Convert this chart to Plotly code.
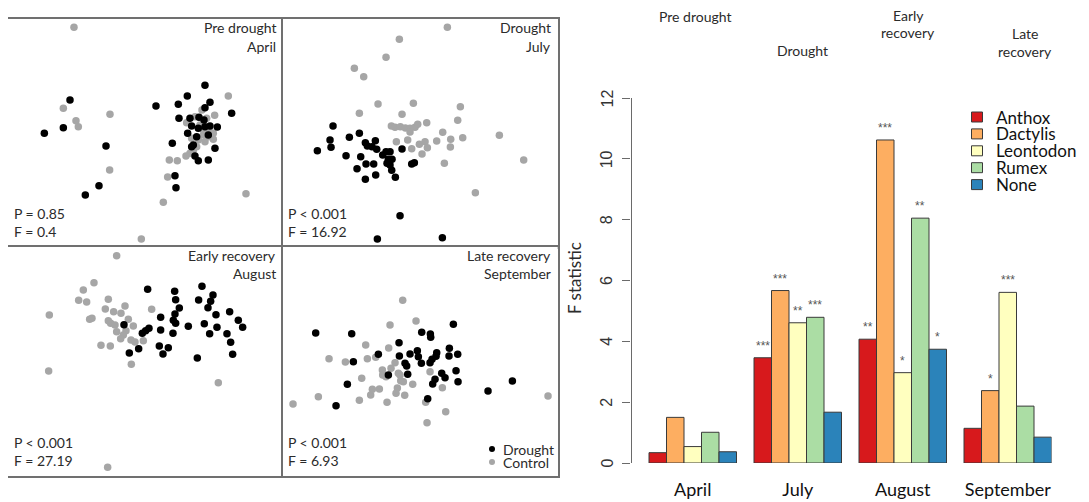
import plotly.graph_objects as go

W, H = 1089, 502
OFF = 8  # page body margin of the browser

# ---------------- ordination data (NMDS1, NMDS2 in arbitrary units) -------------
apr_control = [(222,82),(190,325),(228,362),(235,380),(330,343),(329,510),(490,607),(424,717),
               (508,480),(532,482),(503,531),(558,468),(685,288),(738,581),(644,346),(640,418),
               (606,330),(585,350),(620,355),(560,368),(600,375),(630,395),(610,405),(625,410),
               (595,420),(640,400),(580,450),(570,460),(610,390),(615,425),(590,440),(575,415)]
apr_drought = [(210,300),(190,383),(133,400),(318,438),(297,557),(256,585),(468,318),(535,313),
               (562,288),(615,256),(630,307),(615,323),(695,340),(537,355),(570,355),(597,352),
               (612,360),(575,378),(630,378),(652,381),(595,385),(563,400),(590,410),(615,380),
               (625,405),(580,435),(575,440),(517,430),(645,445),(585,468),(595,482),(625,480),
               (525,527),(528,563)]
jul_control = [(502,82),(358,118),(318,172),(223,205),(251,230),(294,312),(400,310),(238,340),
               (366,343),(541,320),(533,361),(334,378),(345,382),(361,380),(376,384),(390,385),
               (405,382),(413,373),(440,368),(390,396),(488,397),(512,418),(548,413),(349,425),
               (383,420),(418,433),(435,425),(470,423),(395,446),(442,443),(511,441),(426,462),
               (493,490),(658,406),(731,480),(586,578)]
jul_drought = [(159,378),(238,400),(150,420),(208,412),(153,442),(112,452),(256,428),(262,438),
               (276,440),(286,422),(290,448),(198,467),(242,470),(318,455),(330,455),(308,465),
               (325,478),(336,478),(366,447),(258,492),(281,492),(321,490),(330,495),(395,492),
               (403,488),(231,506),(335,511),(287,525),(256,538),(346,532),(360,647),(292,717),
               (487,713)]
aug_control = [(350,47),(282,128),(250,150),(236,181),(260,186),(325,178),(148,225),(316,207),
               (341,215),(363,220),(375,198),(455,208),(269,238),(276,235),(325,242),(332,250),
               (345,255),(385,238),(400,258),(350,275),(378,272),(370,285),(362,296),(393,300),
               (405,306),(430,302),(303,316),(331,318),(394,373),(146,393),(655,428),(323,682)]
aug_drought = [(443,148),(524,154),(527,179),(606,139),(639,165),(632,184),(596,180),(538,204),
               (624,203),(525,222),(689,215),(648,224),(482,232),(520,241),(527,250),(565,259),
               (613,251),(715,241),(728,262),(372,254),(447,265),(437,272),(427,280),(482,270),
               (519,280),(629,281),(651,262),(681,281),(692,307),(698,343),(478,318),(505,323),
               (489,342),(416,326),(388,339),(592,354)]
sep_control = [(368,181),(408,243),(330,255),(257,315),(326,324),(147,356),(196,366),(262,356),
               (287,352),(245,415),(307,390),(333,385),(345,368),(308,405),(318,410),(355,400),
               (360,405),(370,425),(362,422),(398,433),(352,444),(348,460),(374,466),(298,447),
               (277,448),(272,465),(238,481),(321,487),(115,470),(39,492),(437,487),(450,395),
               (487,443),(497,515),(441,548),(804,468)]
sep_drought = [(107,279),(215,281),(520,253),(425,277),(451,282),(452,292),(357,308),(508,325),
               (412,332),(390,342),(358,348),(295,343),(470,338),(468,349),(456,358),(415,350),
               (533,343),(507,348),(375,370),(380,378),(424,370),(450,368),(220,365),(383,403),
               (325,405),(528,392),(485,400),(495,413),(465,418),(458,432),(534,425),(202,433),
               (443,476),(168,497),(624,453),(697,423)]

panel_titles = [("Pre drought", "April"), ("Drought", "July"),
                ("Early recovery", "August"), ("Late recovery", "September")]
panel_p = ["P = 0.85", "P < 0.001", "P < 0.001", "P < 0.001"]
panel_f = ["F = 0.4", "F = 16.92", "F = 27.19", "F = 6.93"]

# ---------------- bar chart data ----------------
months = ["April", "July", "August", "September"]
periods = [["Pre drought"], ["Drought"], ["Early", "recovery"], ["Late", "recovery"]]
species = ["Anthox", "Dactylis", "Leontodon", "Rumex", "None"]
colors = ["#D7191C", "#FDAE61", "#FFFFBF", "#ABDDA4", "#2B83BA"]
fstat = {
    "Anthox":    [0.34, 3.46, 4.07, 1.14],
    "Dactylis":  [1.50, 5.67, 10.62, 2.38],
    "Leontodon": [0.54, 4.61, 2.97, 5.61],
    "Rumex":     [1.01, 4.79, 8.05, 1.87],
    "None":      [0.37, 1.67, 3.74, 0.85],
}
stars = {
    "Anthox":    ["", "***", "**", ""],
    "Dactylis":  ["", "***", "***", "*"],
    "Leontodon": ["", "**", "*", "***"],
    "Rumex":     ["", "***", "**", ""],
    "None":      ["", "", "*", ""],
}
yticks = [0, 2, 4, 6, 8, 10, 12]

# ---------------- helpers (page pixel -> paper fraction) ----------------
def px(x):
    return (x - OFF) / W

def py(y):
    return 1 - (y - OFF) / H

FONT = "Lato"
TXT = "#2b2b2b"

fig = go.Figure()

panels = [
    dict(data=(apr_control, apr_drought), box=(8.0, 283.3, 19.0, 247.3), xr=[24, 850], yr=[742, 57]),
    dict(data=(jul_control, jul_drought), box=(282.7, 557.7, 19.0, 247.3), xr=[8, 833], yr=[742, 57]),
    dict(data=(aug_control, aug_drought), box=(8.0, 283.3, 246.7, 476.0), xr=[24, 850], yr=[708, 20]),
    dict(data=(sep_control, sep_drought), box=(282.7, 557.7, 246.7, 476.0), xr=[8, 833], yr=[708, 20]),
]

annotations = []
shapes = []
for i, p in enumerate(panels):
    n = i + 1
    xa = "x" if n == 1 else f"x{n}"
    ya = "y" if n == 1 else f"y{n}"
    ctrl, dr = p["data"]
    fig.add_trace(go.Scatter(x=[a for a, b in ctrl], y=[b for a, b in ctrl], mode="markers",
                             marker=dict(color="#A6A6A6", size=7.5), xaxis=xa, yaxis=ya,
                             showlegend=False, hoverinfo="skip"))
    fig.add_trace(go.Scatter(x=[a for a, b in dr], y=[b for a, b in dr], mode="markers",
                             marker=dict(color="#000000", size=7.5), xaxis=xa, yaxis=ya,
                             showlegend=False, hoverinfo="skip"))
    x0, x1, y0, y1 = p["box"]
    axstyle = dict(showgrid=False, zeroline=False, showticklabels=False, ticks="",
                   showline=True, mirror=True, linecolor="#707070", linewidth=1.5,
                   automargin=False)
    fig.update_layout(**{
        ("xaxis" if n == 1 else f"xaxis{n}"): dict(domain=[px(x0), px(x1)], range=p["xr"],
                                                    anchor=ya, **axstyle),
        ("yaxis" if n == 1 else f"yaxis{n}"): dict(domain=[py(y1), py(y0)], range=p["yr"],
                                                    anchor=xa, **axstyle),
    })
    t1, t2 = panel_titles[i]
    annotations.append(dict(x=px(x1 - 5), y=py(y0 + 9), text=t1, xref="paper", yref="paper",
                            xanchor="right", yanchor="middle", showarrow=False,
                            font=dict(family=FONT, size=14, color=TXT)))
    annotations.append(dict(x=px(x1 - 5), y=py(y0 + 27), text=t2, xref="paper", yref="paper",
                            xanchor="right", yanchor="middle", showarrow=False,
                            font=dict(family=FONT, size=14, color=TXT)))
    annotations.append(dict(x=px(x0 + 3.5), y=py(y1 - 34), text=panel_p[i], xref="paper", yref="paper",
                            xanchor="left", yanchor="middle", showarrow=False,
                            font=dict(family=FONT, size=14, color=TXT)))
    annotations.append(dict(x=px(x0 + 3.5), y=py(y1 - 16), text=panel_f[i], xref="paper", yref="paper",
                            xanchor="left", yanchor="middle", showarrow=False,
                            font=dict(family=FONT, size=14, color=TXT)))

# legend of the ordination panels
for lab, col, yy in [("Drought", "#000000", 449), ("Control", "#A6A6A6", 462)]:
    shapes.append(dict(type="circle", xref="paper", yref="paper",
                       x0=px(489), x1=px(495), y0=py(yy + 3), y1=py(yy - 3),
                       fillcolor=col, line=dict(width=0)))
    annotations.append(dict(x=px(501), y=py(yy), text=lab, xref="paper", yref="paper",
                            xanchor="left", yanchor="middle", showarrow=False,
                            font=dict(family=FONT, size=14, color=TXT)))

# ---------------- bar chart ----------------
for sp, col in zip(species, colors):
    fig.add_trace(go.Bar(x=months, y=fstat[sp], name=sp, marker=dict(color=col,
                         line=dict(color="#3a3a3a", width=1)),
                         xaxis="x5", yaxis="y5", showlegend=False, hoverinfo="skip"))

# significance stars above the bars
for i, sp in enumerate(species):
    for k, (v, s) in enumerate(zip(fstat[sp], stars[sp])):
        if s:
            annotations.append(dict(x=k + (i - 2) / 6, y=v, xref="x5", yref="y5", text=s,
                                    showarrow=False, xanchor="center", yanchor="bottom",
                                    yshift=3, font=dict(family="Liberation Sans", size=12,
                                                        color="#555555")))

bx0, bx1 = 631.5, 1051.5
by0, by1 = 463.0, 98.0
fig.update_layout(
    barmode="group", bargap=1/6, bargroupgap=0,
    xaxis5=dict(domain=[px(bx0), px(bx1)], anchor="y5", type="category",
                range=[-3.5/6, 20.5/6], showline=False, showgrid=False, zeroline=False,
                ticks="", ticklabelstandoff=14, automargin=False,
                tickfont=dict(family=FONT, size=18, color="#111111")),
    yaxis5=dict(domain=[py(by0), py(by1)], anchor="x5", range=[0, 12],
                tickvals=yticks, showline=True, linecolor="#6a6a6a",
                linewidth=1.2, ticks="outside", ticklen=8, tickcolor="#6a6a6a",
                showticklabels=False, showgrid=False, zeroline=False, automargin=False),
)

# rotated y tick labels (R style, parallel to the axis)
for t in yticks:
    annotations.append(dict(x=px(606.5), y=t, xref="paper", yref="y5", text=str(t),
                            textangle=-90, showarrow=False, xanchor="center", yanchor="middle",
                            font=dict(family="Liberation Sans", size=16, color="#333333")))

annotations.append(dict(x=px(574), y=py(278), text="F statistic", xref="paper", yref="paper",
                        textangle=-90, showarrow=False, xanchor="center", yanchor="middle",
                        font=dict(family=FONT, size=17, color=TXT)))

period_pos = [(695, 16.5), (802, 50), (908, 16), (1025, 34)]
for lines, (xx, yy) in zip(periods, period_pos):
    for j, lab in enumerate(lines):
        annotations.append(dict(x=px(xx), y=py(yy + 17 * j), text=lab, xref="paper", yref="paper",
                                showarrow=False, xanchor="center", yanchor="middle", borderpad=0,
                                font=dict(family=FONT, size=14, color=TXT)))

# bar legend
for k, (sp, col) in enumerate(zip(species, colors)):
    yy = 117 + k * 16.9
    shapes.append(dict(type="rect", xref="paper", yref="paper",
                       x0=px(971.5), x1=px(982.5), y0=py(yy + 5), y1=py(yy - 5),
                       fillcolor=col, line=dict(color="#3a3a3a", width=1)))
    annotations.append(dict(x=px(994), y=py(yy), text=sp, xref="paper", yref="paper",
                            xanchor="left", yanchor="middle", showarrow=False,
                            font=dict(family=FONT, size=17, color="#111111")))

fig.update_layout(
    width=W, height=H, margin=dict(l=0, r=0, t=0, b=0),
    paper_bgcolor="white", plot_bgcolor="white",
    annotations=annotations, shapes=shapes, showlegend=False,
)

fig.write_html("out.html")
